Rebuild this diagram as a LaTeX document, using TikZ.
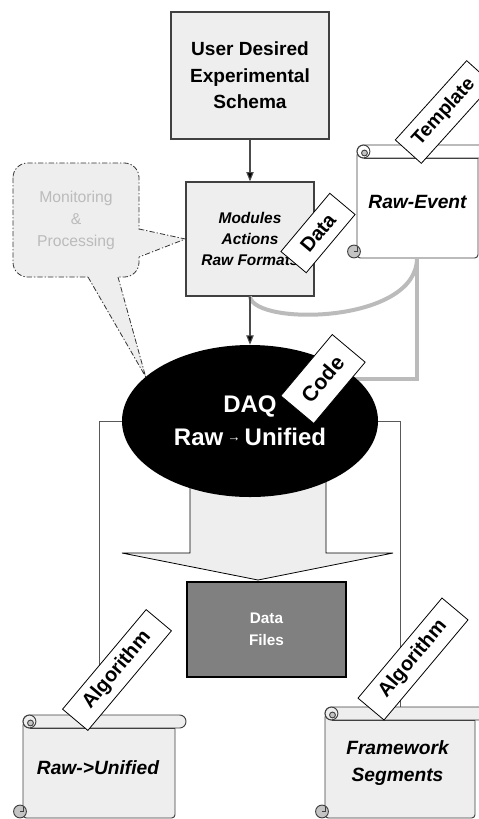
\documentclass[tikz,border=0pt]{standalone}
\usepackage{fontspec}
\setmainfont{Liberation Sans}
\usetikzlibrary{shapes.geometric,arrows.meta}
\definecolor{boxfill}{HTML}{EEEEEE}
\definecolor{boxline}{HTML}{404040}
\definecolor{pipecol}{HTML}{BBBBBB}
\definecolor{faint}{HTML}{BBBBBB}
\definecolor{darkfill}{HTML}{808080}
\definecolor{curlfill}{HTML}{C4C4C4}
\tikzset{
  box/.style={draw=boxline, line width=0.9pt, fill=boxfill, inner sep=0pt, align=center},
  tagbox/.style={draw=black, line width=0.6pt, fill=white, inner sep=0pt, rotate=50,
    font=\bfseries\fontsize{14}{16}\selectfont},
  arr/.style={draw=black!70, line width=0.8pt, -{Triangle[length=7pt,width=5.5pt,fill=black]}},
  scrl/.style={draw=black!75, line width=0.7pt},
  scrolltext/.style={align=center, inner sep=0pt, font=\bfseries\itshape\fontsize{14.4}{20}\selectfont},
  frameline/.style={draw=black!65, line width=0.75pt},
  pipe/.style={draw=pipecol, line width=3pt},
  callout/.style={draw=black!80, line width=0.6pt, dash pattern=on 4pt off 1.5pt on 1pt off 1.5pt},
}
\newcommand\myscroll[5]{%
  \draw[scrl, fill=#5, rounded corners=2.5pt] ({#1},{#2+7}) -- ({#1},{#4}) -- ({#3},{#4}) -- ({#3},{#2+7}) -- cycle;
  \draw[scrl, fill=#5, rounded corners=4.8pt] ({#1},{#2}) rectangle ({#3+11},{#2+13});
  \draw[scrl, fill=#5] ({#1+6.5},{#2+6.5}) circle[radius=4.8pt];
  \draw[scrl, fill=curlfill] ({#1+7.5},{#2+8}) circle[radius=2.2pt];
  \draw[scrl] ({#1+6.5},{#2+13}) -- ({#3},{#2+13});
  \draw[scrl, fill=curlfill] ({#1-3},{#4-6.5}) circle[radius=4.8pt];
  \draw[scrl] ({#1-3},{#4-6.5}) -- ({#1},{#4-6.5}) -- ({#1},{#4-11});
}
\begin{document}
\begin{tikzpicture}[x=0.75pt,y=-0.75pt]
\useasboundingbox (0,0) rectangle (479,819);
\clip (0,0) rectangle (479,819);
\fill[white] (0,0) rectangle (479,819);

% coordinates
\coordinate (ruTop) at (99,715);
\coordinate (fsTop) at (400,707);
\coordinate (rawevb) at (417,258);

% central ellipse position (declared early for frame lines)
\node[ellipse, minimum width=192pt, minimum height=114pt, inner sep=0pt] (daqpos) at (250,421) {};

% frame lines
\draw[frameline] (ruTop) |- (daqpos.center) -| (fsTop);

% big block arrow
\draw[fill=boxfill, draw=black, line width=0.6pt]
  (190,470) -- (190,553) -- (122,553) -- (258,580) -- (393,553) -- (326,553) -- (326,470) -- cycle;

% data files
\node[box, draw=black, fill=darkfill, minimum width=119.25pt, minimum height=71.25pt,
  text=white, font=\bfseries\fontsize{11.5}{16.5}\selectfont] (files) at (266.5,629.5) {Data\\Files};

% top box and modules box
\node[box, minimum width=118.5pt, minimum height=95.25pt,
  font=\bfseries\fontsize{14.3}{20}\selectfont] (schema) at (250,75.5) {User Desired\\Experimental\\Schema};
\node[box, minimum width=96pt, minimum height=85.5pt,
  font=\bfseries\itshape\fontsize{11.6}{15.75}\selectfont] (mod) at (250,239) {Modules\\Actions\\Raw Formats};
\draw[arr] (schema.south) -- (mod.north);

% callout
\draw[callout, fill=boxfill, rounded corners=11pt] (13,163) rectangle (139,277);
\fill[boxfill] (136,229) -- (185,239) -- (136,257) -- cycle;
\fill[boxfill] (88,274) -- (88,277) -- (daqpos.157) -- (118,277) -- (118,274) -- cycle;
\draw[callout] (139,229) -- (mod.west) -- (139,257);
\draw[callout] (88,277) -- (daqpos.157) -- (118,277);
\node[align=center, text=faint, inner sep=0pt, font=\fontsize{11.8}{16.5}\selectfont] (mon) at (76,220)
  {Monitoring\\\&\\Processing};

% raw event scroll
\myscroll{357}{145}{478}{258}{white}
\node[scrolltext] (rawev) at (417.5,202) {Raw-Event};

% pipes
\coordinate (codec) at (323,379);
\draw[pipe] (mod.south) .. controls (254,326) and (417,324) .. (rawevb);
\draw[pipe] (rawevb) |- (codec);

% DAQ ellipse
\node[ellipse, fill=black, minimum width=192pt, minimum height=114pt, inner sep=0pt,
  text=white, align=center, font=\bfseries\fontsize{18}{25}\selectfont] (daq) at (250,421)
  {DAQ\\Raw\,\raisebox{3.5pt}{\fontsize{10}{10}\selectfont →}\,Unified};
\draw[arr] (mod.south) -- (daq.north);

% code tag
\node[tagbox, minimum width=60pt, minimum height=32.25pt, font=\bfseries\fontsize{16}{17}\selectfont] (code) at (codec) {Code};

% lower scrolls
\myscroll{23}{715}{175}{818}{boxfill}
\node[scrolltext] (rawu) at (98,768) {Raw->Unified};
\myscroll{325}{707}{475}{818}{boxfill}
\node[scrolltext] (fseg) at (397.5,763) {Framework\\Segments};

% tags
\node[tagbox, minimum width=57pt, minimum height=24.75pt, font=\bfseries\fontsize{15}{16}\selectfont] (datatag) at (318,233) {Data};
\node[tagbox, rotate=-2, minimum width=80pt, minimum height=26.25pt, font=\bfseries\fontsize{14.5}{15}\selectfont] (tmpl) at (444,112) {Template};
\node[tagbox, minimum width=97.5pt, minimum height=24.75pt, font=\bfseries\fontsize{15}{16}\selectfont] (alg1) at (117,670) {Algorithm};
\node[tagbox, minimum width=98pt, minimum height=25.5pt, font=\bfseries\fontsize{15}{16}\selectfont] (alg2) at (413,659) {Algorithm};
\end{tikzpicture}
\end{document}
